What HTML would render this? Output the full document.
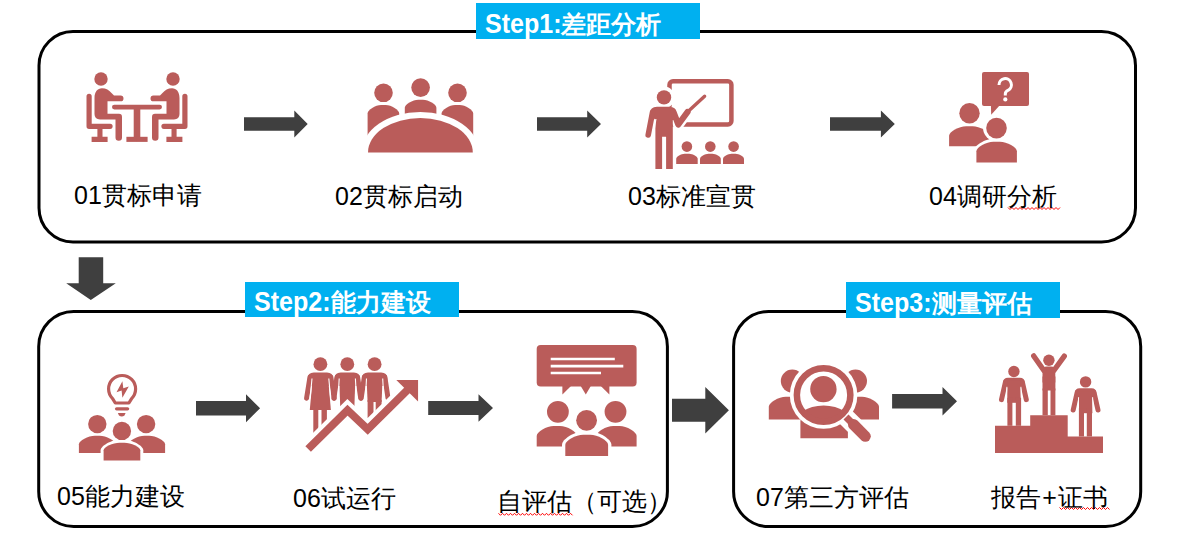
<!DOCTYPE html>
<html><head><meta charset="utf-8">
<style>
html,body{margin:0;padding:0;background:#fff;width:1180px;height:538px;overflow:hidden;position:relative}
body{font-family:"Liberation Sans",sans-serif}
svg{position:absolute;left:0;top:0}
.t{position:absolute;white-space:nowrap;color:#000;font-size:25px;line-height:30px}
.s{position:absolute;white-space:nowrap;color:#fff;font-size:25px;font-weight:bold;line-height:30px}
.lt{display:inline-block;font-size:26.8px;transform:scaleX(0.935);transform-origin:0 70%;margin-right:-5.2px}
</style></head><body>
<svg width="1180" height="538" viewBox="0 0 1180 538">
 <g fill="none" stroke="#000" stroke-width="3">
  <rect x="39" y="31.5" width="1096.5" height="210.5" rx="34"/>
  <rect x="38.7" y="311.4" width="628.7" height="215.1" rx="35"/>
  <rect x="733.6" y="311.4" width="407.1" height="215.1" rx="35"/>
 </g>
 <g fill="#00B0F0">
  <rect x="476" y="3" width="224" height="36"/>
  <rect x="245" y="282" width="214" height="35"/>
  <rect x="846" y="282" width="214" height="36"/>
 </g>
 <g fill="#3F3F3F">
  <polygon points="244,117.2 294.3,117.2 294.3,110.5 307.7,124 294.3,137.5 294.3,130.8 244,130.8"/>
  <polygon points="537,117.2 587.2,117.2 587.2,110.5 601,124 587.2,137.5 587.2,130.8 537,130.8"/>
  <polygon points="830,117.2 880.9,117.2 880.9,110.5 894.8,124 880.9,137.5 880.9,130.8 830,130.8"/>
  <polygon points="78.7,257.2 103.2,257.2 103.2,283.2 115.8,283.2 90.8,300 66.2,283.2 78.7,283.2"/>
  <polygon points="196,401.1 246,401.1 246,394.3 260.1,408.3 246,422.3 246,415.5 196,415.5"/>
  <polygon points="428.2,401.1 478.5,401.1 478.5,394.2 493,408 478.5,421.8 478.5,414.9 428.2,414.9"/>
  <polygon points="672,398.8 705.3,398.8 705.3,387.1 728.9,410.3 705.3,433.6 705.3,421.8 672,421.8"/>
  <polygon points="892.1,394.1 942.5,394.1 942.5,387.1 957,401.3 942.5,415.5 942.5,408.5 892.1,408.5"/>
 </g>
<g fill="#BA5C5A"><g id="i1h">
<circle cx="101" cy="79" r="6.7"/>
<path d="M86.5,96.3 a2.6,2.6 0 0 1 5.2,0 V123.8 H110.1 a2.55,2.55 0 0 1 0,5.1 H102.5 V136.8 H107.6 V141.9 H91.6 V136.8 H97.4 V128.9 H89.1 a2.6,2.6 0 0 1 -2.6,-2.6 Z"/>
<path d="M94.5,98 C94.5,92 97.5,88.3 102,88.3 C106,88.3 109,90.2 112,93.5 L114,95.5 L120.6,95.5 a2.9,2.9 0 0 1 0,5.8 L107.5,101.3 L107.5,113.7 L119,113.7 Q122,113.7 122,117 L122,137.6 a3.25,3.25 0 0 1 -6.5,0 L115.5,119.4 L100,119.4 Q94.5,119.4 94.5,114 Z"/>
<path d="M114.4,104.7 H137 V109.5 H114.4 a2.4,2.4 0 0 1 0,-4.8 Z"/>
<rect x="133.7" y="109" width="3.4" height="28.5"/>
<rect x="126.4" y="136.8" width="10.7" height="5.1"/>
</g><use href="#i1h" transform="translate(274,0) scale(-1,1)"/></g>
<g fill="#BA5C5A">
<circle cx="420.6" cy="87.6" r="9.3"/><circle cx="383.5" cy="92.8" r="9.3"/><circle cx="457.5" cy="92.8" r="9.3"/>
<path d="M367.60,145.00 V113.50 C367.60,109.93 375.43,105.00 381.10,105.00 H385.70 C391.37,105.00 399.20,109.93 399.20,113.50 V145.00 Z"/>
<path d="M404.80,125.00 V107.80 C404.80,104.44 412.63,99.80 418.30,99.80 H422.90 C428.57,99.80 436.40,104.44 436.40,107.80 V125.00 Z"/>
<path d="M441.60,145.00 V113.50 C441.60,109.93 449.43,105.00 455.10,105.00 H459.70 C465.37,105.00 473.20,109.93 473.20,113.50 V145.00 Z"/>
<ellipse cx="420.4" cy="152.5" rx="58.8" ry="40.5" fill="#FFFFFF"/>
<rect x="355" y="152.5" width="130" height="12" fill="#FFFFFF"/>
<path d="M368,152.5 A52.4,34.5 0 0 1 472.8,152.5 Z"/>
</g>
<g>
<rect x="669.5" y="81.2" width="61.9" height="43.3" rx="3.5" fill="none" stroke="#BA5C5A" stroke-width="4.5"/>
<circle cx="664" cy="97.4" r="10.8" fill="#FFFFFF"/>
<path d="M673.5,112 L678.3,124.5 L687.5,112 L704.6,96" fill="none" stroke="#FFFFFF" stroke-width="11" stroke-linecap="round" stroke-linejoin="round"/>
<g fill="#BA5C5A">
<circle cx="664" cy="97.4" r="7.2"/>
<path d="M650,114 Q650,106.7 657,106.7 H669.5 Q676.2,106.7 676.2,113 V120 H672.8 V169 H666.1 V136.8 H662.1 V169 H655.4 V120 Z"/>
<path d="M652.6,112 L648.2,135" fill="none" stroke="#BA5C5A" stroke-width="5.6" stroke-linecap="round"/>
<path d="M655.9,119 L652.9,138" stroke="#FFFFFF" stroke-width="1.2"/>
<path d="M673.5,112 L678.3,124.5 L687.5,112" fill="none" stroke="#BA5C5A" stroke-width="6.2" stroke-linecap="round" stroke-linejoin="round"/>
<path d="M687.5,112 L704.6,96.2" fill="none" stroke="#BA5C5A" stroke-width="3.4" stroke-linecap="round"/>
<circle cx="686.9" cy="146.6" r="5.3"/>
<path d="M676.20,164.00 V158.80 C676.20,156.70 681.13,153.80 684.70,153.80 H689.20 C692.77,153.80 697.70,156.70 697.70,158.80 V164.00 Z"/>
<circle cx="710.3" cy="146.6" r="5.3"/>
<path d="M700.00,164.00 V158.80 C700.00,156.70 704.93,153.80 708.50,153.80 H712.30 C715.87,153.80 720.80,156.70 720.80,158.80 V164.00 Z"/>
<circle cx="733.6" cy="146.6" r="5.3"/>
<path d="M723.00,164.00 V158.80 C723.00,156.70 727.93,153.80 731.50,153.80 H735.50 C739.07,153.80 744.00,156.70 744.00,158.80 V164.00 Z"/>
</g></g>
<g fill="#BA5C5A">
<rect x="982" y="72" width="47" height="34.1" rx="2"/>
<polygon points="990.9,105 1000,105 991.2,114.8"/>
<path d="M999,85 A6.2,6.2 0 1 1 1008.3,90.2 Q1005.3,91.6 1005.3,94 V95.5" fill="none" stroke="#FFFFFF" stroke-width="3"/>
<circle cx="1005.3" cy="99.4" r="2.1" fill="#FFFFFF"/>
<circle cx="969.5" cy="113.2" r="10.2"/>
<path d="M949.10,146.30 V135.80 C949.10,131.81 958.96,126.30 966.10,126.30 H972.60 C979.74,126.30 989.60,131.81 989.60,135.80 V146.30 Z"/>
<circle cx="996.5" cy="128.1" r="13.4" fill="#FFFFFF"/>
<path d="M973.40,165.40 V151.30 C973.40,146.05 985.00,138.80 993.40,138.80 H999.90 C1008.30,138.80 1019.90,146.05 1019.90,151.30 V165.40 Z" fill="#FFFFFF"/>
<circle cx="996.5" cy="128.1" r="10.3"/>
<path d="M976.40,162.40 V151.30 C976.40,147.31 986.26,141.80 993.40,141.80 H999.90 C1007.04,141.80 1016.90,147.31 1016.90,151.30 V162.40 Z"/>
</g>
<g fill="#BA5C5A">
<path d="M112.6,398.6 A13.5,13.5 0 1 1 131.6,398.6 L128.9,403 L115.3,403 Z" fill="none" stroke="#BA5C5A" stroke-width="3.2" stroke-linejoin="round"/>
<polygon points="122.4,381.3 116.5,392.2 121.6,390.4 122.4,397.8 128.8,386.4 123.3,388.2"/>
<path d="M116.6,408.8 H127.6" stroke="#BA5C5A" stroke-width="3.3" stroke-linecap="round"/>
<path d="M117.9,413 H125.6 L124.5,415.5 Q121.75,417.5 119,415.5 Z"/>
<circle cx="97.3" cy="424.1" r="9.2"/><circle cx="146.1" cy="424.1" r="9.2"/>
<path d="M78.90,453.10 V444.20 C78.90,440.63 88.18,435.70 94.90,435.70 H99.50 C106.22,435.70 115.50,440.63 115.50,444.20 V453.10 Z"/>
<path d="M128.50,453.10 V444.20 C128.50,440.63 137.78,435.70 144.50,435.70 H149.10 C155.82,435.70 165.10,440.63 165.10,444.20 V453.10 Z"/>
<circle cx="121.9" cy="430.9" r="12.2" fill="#FFFFFF"/>
<path d="M100.60,463.40 V450.30 C100.60,445.89 111.62,439.80 119.60,439.80 H124.30 C132.28,439.80 143.30,445.89 143.30,450.30 V463.40 Z" fill="#FFFFFF"/>
<circle cx="121.9" cy="430.9" r="9.2"/>
<path d="M103.60,460.40 V450.30 C103.60,447.15 112.88,442.80 119.60,442.80 H124.30 C131.02,442.80 140.30,447.15 140.30,450.30 V460.40 Z"/>
</g>
<g fill="#BA5C5A">
<rect x="536.7" y="344.9" width="99.9" height="41.5" rx="4"/>
<polygon points="562.4,386 571,386 562.4,394.5"/><polygon points="580.7,386 590.8,386 585.8,394.5"/><polygon points="600.8,386 609.4,386 609.4,394.5"/>
<g stroke="#FFFFFF" stroke-width="2.6"><path d="M550.7,359 H614.8"/><path d="M550.7,366.1 H623.3"/><path d="M550.7,373 H601"/></g>
<circle cx="557.9" cy="411.8" r="10.9"/><circle cx="615.5" cy="411.8" r="10.9"/>
<path d="M536.70,446.60 V435.90 C536.70,431.70 546.56,425.90 553.70,425.90 H560.00 C567.14,425.90 577.00,431.70 577.00,435.90 V446.60 Z"/>
<path d="M596.30,446.60 V435.90 C596.30,431.70 606.16,425.90 613.30,425.90 H619.60 C626.74,425.90 636.60,431.70 636.60,435.90 V446.60 Z"/>
<circle cx="586.6" cy="420.3" r="14" fill="#FFFFFF"/>
<path d="M562.00,459.30 V444.80 C562.00,439.21 574.35,431.50 583.30,431.50 H590.10 C599.05,431.50 611.40,439.21 611.40,444.80 V459.30 Z" fill="#FFFFFF"/>
<circle cx="586.6" cy="420.3" r="10.4"/>
<path d="M565.30,456.00 V444.80 C565.30,440.60 575.74,434.80 583.30,434.80 H590.10 C597.66,434.80 608.10,440.60 608.10,444.80 V456.00 Z"/>
</g>
<g fill="#BA5C5A">
<circle cx="320.4" cy="364.2" r="6.9"/><path d="M307.79999999999995,386 V378.5 Q307.79999999999995,372.5 313.79999999999995,372.5 H327.0 Q333.0,372.5 333.0,378.5 V386 Z"/><path d="M310.0,377 L306.59999999999997,398.2 M330.79999999999995,377 L334.2,398.2" fill="none" stroke="#BA5C5A" stroke-width="5" stroke-linecap="round"/><polygon points="312.59999999999997,379 328.2,379 330.9,409.9 309.79999999999995,409.9"/><rect x="313.29999999999995" y="409" width="5" height="25"/><rect x="321.5" y="409" width="5.4" height="25"/><path d="M312.0,378.5 L310.09999999999997,398.5 M328.79999999999995,378.5 L330.7,398.5" stroke="#FFFFFF" stroke-width="1.1"/>
<circle cx="347.3" cy="364.2" r="6.9"/><path d="M334.7,386 V378.5 Q334.7,372.5 340.7,372.5 H353.90000000000003 Q359.90000000000003,372.5 359.90000000000003,378.5 V386 Z"/><path d="M337.0,377 L333.90000000000003,398.2 M357.6,377 L360.7,398.2" fill="none" stroke="#BA5C5A" stroke-width="5" stroke-linecap="round"/><polygon points="339.2,376 355.40000000000003,376 354.3,410 340.3,410"/><path d="M339.2,378.5 L338.40000000000003,393 M355.40000000000003,378.5 L356.2,393" stroke="#FFFFFF" stroke-width="1.1"/>
<circle cx="374.6" cy="364.2" r="6.9"/><path d="M362.0,386 V378.5 Q362.0,372.5 368.0,372.5 H381.20000000000005 Q387.20000000000005,372.5 387.20000000000005,378.5 V386 Z"/><path d="M364.3,377 L361.20000000000005,398.2 M384.90000000000003,377 L388.0,398.2" fill="none" stroke="#BA5C5A" stroke-width="5" stroke-linecap="round"/><polygon points="366.5,376 382.70000000000005,376 381.6,402 367.6,402"/><rect x="367.6" y="400" width="5.9" height="25"/><rect x="375.70000000000005" y="400" width="5.9" height="25"/><path d="M366.5,378.5 L365.70000000000005,393 M382.70000000000005,378.5 L383.5,393" stroke="#FFFFFF" stroke-width="1.1"/>
<path d="M308.15,449.05 L347.5,410.2 L367.7,429.3 L410,387.5" fill="none" stroke="#FFFFFF" stroke-width="16" stroke-linejoin="miter"/>
<polygon points="389,376.6 421.6,376.6 421.6,409" fill="#FFFFFF"/>
<rect x="300" y="448" width="20" height="12" fill="#FFFFFF"/>
<path d="M308.15,449.05 L347.5,410.2 L367.7,429.3 L410,387.5" fill="none" stroke="#BA5C5A" stroke-width="7.9" stroke-linejoin="miter"/>
<polygon points="396.3,380.1 418.05,380.1 418.05,401.5"/>
</g>
<defs><clipPath id="cin"><circle cx="823.6" cy="395" r="24.5"/></clipPath></defs>
<g fill="#BA5C5A">
<circle cx="792.3" cy="381.1" r="11.5"/><circle cx="855.5" cy="381.1" r="11.5"/>
<path d="M768.80,419.40 V406.80 C768.80,402.60 778.66,396.80 785.80,396.80 H793.00 C800.14,396.80 810.00,402.60 810.00,406.80 V419.40 Z"/>
<path d="M837.20,419.40 V406.80 C837.20,402.60 847.06,396.80 854.20,396.80 H862.00 C869.14,396.80 879.00,402.60 879.00,406.80 V419.40 Z"/>
<path d="M800.40,438.30 V421.00 C800.40,417.22 809.10,412.00 815.40,412.00 H832.90 C839.20,412.00 847.90,417.22 847.90,421.00 V438.30 Z"/>
<circle cx="823.6" cy="395" r="33.8" fill="#FFFFFF"/>
<path d="M845,416.4 L865.5,436.6" stroke="#FFFFFF" stroke-width="18" stroke-linecap="round"/>
<g clip-path="url(#cin)"><circle cx="823.4" cy="389.1" r="13.2"/><ellipse cx="823.6" cy="426" rx="30" ry="20.5"/></g>
<circle cx="823.6" cy="395" r="26.75" fill="none" stroke="#BA5C5A" stroke-width="6.5"/>
<path d="M846,417 L853,424" stroke="#BA5C5A" stroke-width="7" />
<path d="M853.5,424.5 L865.3,436.3" stroke="#BA5C5A" stroke-width="11" stroke-linecap="round"/>
</g>
<g fill="#BA5C5A">
<path d="M995,452.9 V425.8 H1030.2 V415.3 H1067.7 V436.5 H1103 V452.9 Z"/>
<circle cx="1048.9" cy="360.2" r="5.7"/><path d="M1042.5,382.5 V371.0 Q1042.5,366.5 1046.9,366.5 H1050.9 Q1055.3000000000002,366.5 1055.3000000000002,371.0 V382.5 Z"/><rect x="1042.5" y="376.5" width="12.9" height="14"/><path d="M1043.9,370.5 L1033.7,355.9 M1053.9,370.5 L1064.3000000000002,356.09999999999997" fill="none" stroke="#BA5C5A" stroke-width="5.3" stroke-linecap="round"/><rect x="1042.5" y="388.5" width="5.3" height="26.80000000000001"/><rect x="1050.5" y="388.5" width="4.9" height="26.80000000000001"/>
<circle cx="1013.9" cy="371.5" r="5.7"/><path d="M1003.3,387.8 V382.3 Q1003.3,377.8 1007.9,377.8 H1019.9 Q1024.5,377.8 1024.5,382.3 V387.8 Z"/><path d="M1005.5,381.8 L1001.5,399.6 M1022.3,381.8 L1026.3,399.6" fill="none" stroke="#BA5C5A" stroke-width="5" stroke-linecap="round"/><rect x="1007.3" y="380.8" width="13.4" height="22"/><path d="M1006.9,386.8 L1006.1,401.8 M1020.9,386.8 L1021.6999999999999,401.8" stroke="#FFFFFF" stroke-width="1"/>
<rect x="1007.4" y="397.8" width="5" height="28.0"/><rect x="1015.8" y="397.8" width="5.3" height="28.0"/>
<circle cx="1085.6" cy="381.9" r="5.7"/><path d="M1075.0,398.2 V392.7 Q1075.0,388.2 1079.6,388.2 H1091.6 Q1096.1999999999998,388.2 1096.1999999999998,392.7 V398.2 Z"/><path d="M1077.1999999999998,392.2 L1073.1999999999998,410.0 M1094.0,392.2 L1098.0,410.0" fill="none" stroke="#BA5C5A" stroke-width="5" stroke-linecap="round"/><rect x="1079.0" y="391.2" width="13.4" height="22"/><path d="M1078.6,397.2 L1077.8,412.2 M1092.6,397.2 L1093.3999999999999,412.2" stroke="#FFFFFF" stroke-width="1"/>
<rect x="1078.9" y="408.2" width="5.1" height="28.30000000000001"/><rect x="1086.8" y="408.2" width="5.2" height="28.30000000000001"/>
</g>
<polyline points="1008.0,207.5 1010.0,209.5 1012.0,207.5 1014.0,209.5 1016.0,207.5 1018.0,209.5 1020.0,207.5 1022.0,209.5 1024.0,207.5 1026.0,209.5 1028.0,207.5 1030.0,209.5 1032.0,207.5 1034.0,209.5 1036.0,207.5 1038.0,209.5 1040.0,207.5 1042.0,209.5 1044.0,207.5 1046.0,209.5 1048.0,207.5 1050.0,209.5 1052.0,207.5 1054.0,209.5 1056.0,207.5 1058.0,209.5 1060.0,207.5" fill="none" stroke="#FF0000" stroke-width="1"/>
<polyline points="498.5,513.3 500.5,515.3 502.5,513.3 504.5,515.3 506.5,513.3 508.5,515.3 510.5,513.3 512.5,515.3 514.5,513.3 516.5,515.3 518.5,513.3 520.5,515.3 522.5,513.3 524.5,515.3 526.5,513.3 528.5,515.3 530.5,513.3 532.5,515.3 534.5,513.3 536.5,515.3 538.5,513.3 540.5,515.3 542.5,513.3 544.5,515.3 546.5,513.3 548.5,515.3 550.5,513.3 552.5,515.3 554.5,513.3 556.5,515.3 558.5,513.3 560.5,515.3 562.5,513.3 564.5,515.3 566.5,513.3 568.5,515.3 570.5,513.3 572.5,515.3" fill="none" stroke="#FF0000" stroke-width="1"/>
<polyline points="1059.5,507.5 1061.5,509.5 1063.5,507.5 1065.5,509.5 1067.5,507.5 1069.5,509.5 1071.5,507.5 1073.5,509.5 1075.5,507.5 1077.5,509.5 1079.5,507.5 1081.5,509.5 1083.5,507.5 1085.5,509.5 1087.5,507.5 1089.5,509.5 1091.5,507.5 1093.5,509.5 1095.5,507.5 1097.5,509.5 1099.5,507.5 1101.5,509.5 1103.5,507.5 1105.5,509.5 1107.5,507.5 1109.5,509.5" fill="none" stroke="#FF0000" stroke-width="1"/>
</svg>
<div class="s" style="left:484.5px;top:9px"><span class="lt">Step1:</span>差距分析</div>
<div class="s" style="left:254px;top:287px"><span class="lt">Step2:</span>能力建设</div>
<div class="s" style="left:855px;top:288px"><span class="lt">Step3:</span>测量评估</div>

<div class="t" style="left:74px;top:180px">01贯标申请</div>
<div class="t" style="left:335px;top:181px">02贯标启动</div>
<div class="t" style="left:628px;top:181px">03标准宣贯</div>
<div class="t" style="left:929px;top:181px">04调研分析</div>
<div class="t" style="left:57px;top:481px">05能力建设</div>
<div class="t" style="left:293px;top:483px">06试运行</div>
<div class="t" style="left:496.5px;top:486px">自评估（可选）</div>
<div class="t" style="left:756px;top:482px">07第三方评估</div>
<div class="t" style="left:991px;top:482px">报告<span style="margin:0 1.3px">+</span>证书</div>
</body></html>
